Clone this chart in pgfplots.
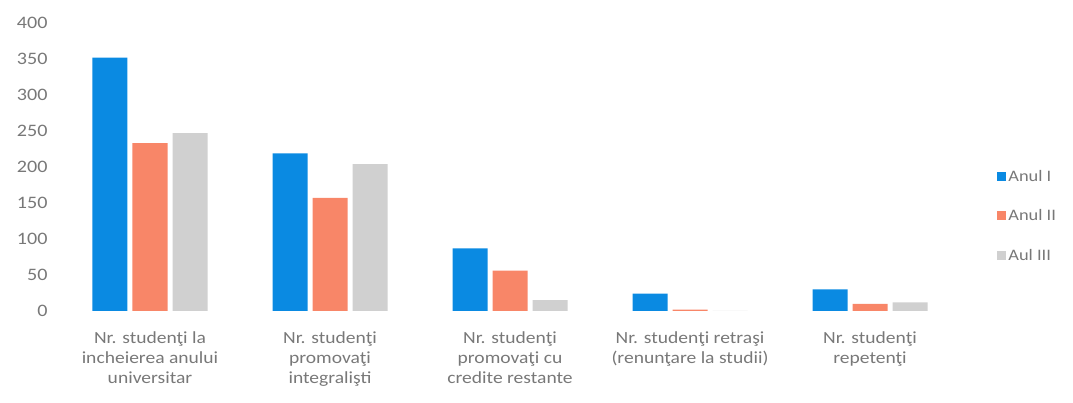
\documentclass[border=0pt]{standalone}
\usepackage{pgfplots}
\pgfplotsset{compat=1.18}
\usepackage{fontspec}
\setmainfont{Carlito}[FakeStretch=1.15]
\usetikzlibrary{calc}

\definecolor{anulI}{RGB}{10,138,226}
\definecolor{anulII}{RGB}{248,134,104}
\definecolor{anulIII}{RGB}{208,208,208}
\definecolor{txt}{RGB}{120,120,120}

\begin{document}
\begin{tikzpicture}
\begin{axis}[
  name=ax,
  scale only axis,
  width=900pt, height=288pt,
  xmin=-0.5, xmax=4.5,
  ymin=0, ymax=400,
  ybar=5pt, bar width=35pt,
  axis line style={draw=none},
  major tick style={draw=none},
  ytick={0,50,...,400},
  xtick={0,1,2,3,4},
  xticklabels={
    {Nr. studenţi la\\incheierea anului\\universitar},
    {Nr. studenţi\\promovaţi\\integralişti},
    {Nr. studenţi\\promovaţi cu\\credite restante},
    {Nr. studenţi retraşi\\(renunţare la studii)},
    {Nr. studenţi\\repetenţi}},
  xticklabel style={align=center, text=txt, font=\fontsize{17}{20}\selectfont, yshift=-13pt},
  yticklabel style={text=txt, font=\fontsize{17.5}{20}\selectfont, xshift=-9pt},
  /pgf/number format/assume math mode=true,
  legend style={draw=none, fill=none, at={(rel axis cs:1.038,0.33)}, anchor=west,
    font=\fontsize{16}{19}\selectfont, text=txt, row sep=23pt},
  legend cell align=left,
  legend image code/.code={\fill[#1] (0pt,-4.5pt) rectangle (9pt,4.5pt);},
]
\addplot[fill=anulI, draw=none] coordinates {(0,352) (1,219) (2,87) (3,24) (4,30)};
\addplot[fill=anulII, draw=none] coordinates {(0,233) (1,157) (2,56) (3,2) (4,10)};
\addplot[fill=anulIII, draw=none] coordinates {(0,247) (1,204) (2,15) (3,0) (4,12)};
\legend{Anul I, Anul II, Aul III}
\end{axis}
\path[use as bounding box] ($(ax.south west)+(-60pt,-92pt)$) rectangle ($(ax.north east)+(113pt,23pt)$);
\end{tikzpicture}
\end{document}
